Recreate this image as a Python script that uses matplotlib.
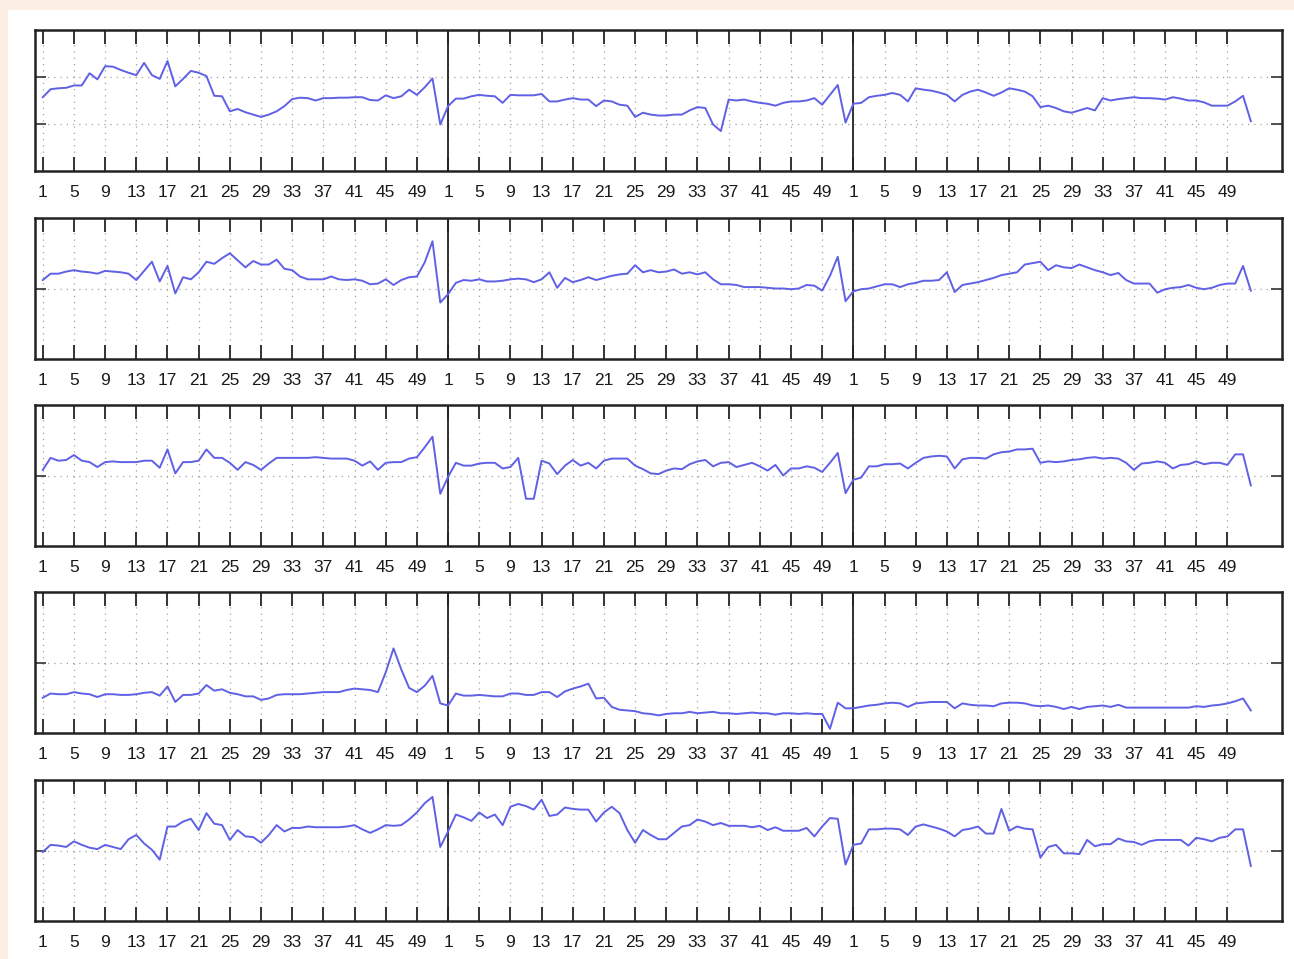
import numpy as np
import matplotlib.pyplot as plt
from matplotlib.patches import Rectangle

plt.rcParams['font.family'] = ['Liberation Sans', 'DejaVu Sans']

# each row of the figure = three consecutive runs of 52 samples
SEG_LEN = 52
seg_x = np.arange(1, SEG_LEN + 1)
tick_vals = list(range(1, 50, 4))
tick_labels = [str(v) for v in tick_vals]

row1_a = [1.57, 1.74, 1.76, 1.77, 1.82, 1.82, 2.08, 1.95, 2.23, 2.22, 2.15, 2.09, 2.04,
          2.30, 2.04, 1.96, 2.34, 1.80, 1.96, 2.13, 2.09, 2.02, 1.60, 1.59, 1.27, 1.32,
          1.25, 1.20, 1.15, 1.20, 1.27, 1.38, 1.53, 1.56, 1.55, 1.50, 1.55, 1.55, 1.56,
          1.56, 1.57, 1.57, 1.51, 1.50, 1.61, 1.55, 1.59, 1.73, 1.62, 1.78, 1.97, 0.99]
row1_b = [1.38, 1.54, 1.54, 1.59, 1.62, 1.60, 1.59, 1.45, 1.62, 1.61, 1.61, 1.61, 1.64,
          1.48, 1.48, 1.52, 1.55, 1.52, 1.52, 1.38, 1.50, 1.48, 1.41, 1.39, 1.15, 1.24,
          1.20, 1.18, 1.18, 1.20, 1.20, 1.29, 1.36, 1.34, 0.99, 0.85, 1.52, 1.50, 1.52,
          1.48, 1.45, 1.43, 1.39, 1.45, 1.48, 1.48, 1.50, 1.55, 1.41, 1.62, 1.83, 1.03]
row1_c = [1.43, 1.45, 1.57, 1.60, 1.62, 1.66, 1.62, 1.48, 1.76, 1.73, 1.71, 1.67, 1.62,
          1.48, 1.62, 1.69, 1.73, 1.67, 1.60, 1.67, 1.76, 1.73, 1.69, 1.59, 1.36, 1.39,
          1.34, 1.27, 1.24, 1.29, 1.34, 1.29, 1.55, 1.50, 1.53, 1.55, 1.57, 1.55, 1.55,
          1.54, 1.52, 1.57, 1.54, 1.50, 1.50, 1.46, 1.39, 1.39, 1.39, 1.48, 1.60, 1.06]

row2_a = [1.12, 1.21, 1.21, 1.24, 1.26, 1.24, 1.23, 1.21, 1.25, 1.24, 1.23, 1.21, 1.12,
          1.25, 1.38, 1.10, 1.32, 0.93, 1.16, 1.13, 1.23, 1.38, 1.35, 1.43, 1.50, 1.40,
          1.30, 1.39, 1.34, 1.34, 1.41, 1.28, 1.26, 1.17, 1.13, 1.13, 1.13, 1.17, 1.13,
          1.12, 1.13, 1.11, 1.06, 1.07, 1.13, 1.05, 1.12, 1.16, 1.17, 1.37, 1.67, 0.80]
row2_b = [0.92, 1.08, 1.12, 1.11, 1.13, 1.10, 1.10, 1.11, 1.13, 1.14, 1.13, 1.09, 1.13,
          1.23, 1.01, 1.15, 1.09, 1.12, 1.16, 1.12, 1.15, 1.18, 1.20, 1.21, 1.33, 1.23,
          1.26, 1.23, 1.24, 1.27, 1.21, 1.23, 1.20, 1.23, 1.13, 1.06, 1.06, 1.05, 1.02,
          1.02, 1.02, 1.01, 1.00, 1.00, 0.99, 1.00, 1.05, 1.04, 0.97, 1.18, 1.45, 0.82]
row2_c = [0.96, 0.99, 1.00, 1.03, 1.06, 1.06, 1.02, 1.06, 1.08, 1.11, 1.11, 1.12, 1.23,
          0.95, 1.05, 1.07, 1.09, 1.12, 1.15, 1.19, 1.21, 1.23, 1.34, 1.36, 1.38, 1.26,
          1.33, 1.30, 1.29, 1.34, 1.30, 1.26, 1.23, 1.19, 1.22, 1.12, 1.07, 1.07, 1.07,
          0.94, 0.99, 1.01, 1.02, 1.05, 1.01, 0.99, 1.01, 1.05, 1.07, 1.07, 1.32, 0.97]

row3_a = [1.08, 1.25, 1.21, 1.22, 1.29, 1.21, 1.19, 1.12, 1.19, 1.20, 1.19, 1.19, 1.19,
          1.21, 1.21, 1.11, 1.37, 1.03, 1.19, 1.19, 1.21, 1.37, 1.25, 1.25, 1.18, 1.08,
          1.19, 1.15, 1.08, 1.17, 1.25, 1.25, 1.25, 1.25, 1.25, 1.26, 1.25, 1.24, 1.24,
          1.24, 1.21, 1.14, 1.20, 1.08, 1.18, 1.19, 1.19, 1.24, 1.26, 1.40, 1.55, 0.74]
row3_b = [0.98, 1.18, 1.14, 1.14, 1.17, 1.18, 1.18, 1.10, 1.12, 1.25, 0.67, 0.67, 1.21,
          1.17, 1.02, 1.14, 1.22, 1.14, 1.18, 1.10, 1.21, 1.24, 1.24, 1.24, 1.14, 1.09,
          1.03, 1.02, 1.07, 1.10, 1.09, 1.16, 1.20, 1.22, 1.13, 1.18, 1.19, 1.12, 1.15,
          1.18, 1.13, 1.07, 1.15, 1.00, 1.10, 1.10, 1.13, 1.11, 1.05, 1.18, 1.32, 0.75]
row3_c = [0.94, 0.97, 1.13, 1.13, 1.16, 1.16, 1.17, 1.10, 1.18, 1.25, 1.27, 1.28, 1.27,
          1.10, 1.23, 1.25, 1.25, 1.24, 1.30, 1.33, 1.34, 1.37, 1.37, 1.38, 1.18, 1.20,
          1.19, 1.20, 1.22, 1.23, 1.25, 1.26, 1.24, 1.25, 1.24, 1.18, 1.08, 1.17, 1.18,
          1.20, 1.18, 1.10, 1.15, 1.16, 1.20, 1.16, 1.18, 1.18, 1.15, 1.30, 1.30, 0.86]

row4_a = [0.50, 0.56, 0.55, 0.55, 0.58, 0.56, 0.55, 0.51, 0.55, 0.55, 0.54, 0.54, 0.55,
          0.57, 0.58, 0.53, 0.66, 0.44, 0.54, 0.54, 0.56, 0.68, 0.60, 0.62, 0.57, 0.55,
          0.52, 0.52, 0.47, 0.49, 0.54, 0.55, 0.55, 0.55, 0.56, 0.57, 0.58, 0.58, 0.58,
          0.61, 0.63, 0.62, 0.61, 0.58, 0.86, 1.20, 0.90, 0.64, 0.58, 0.67, 0.81, 0.42]
row4_b = [0.39, 0.56, 0.53, 0.53, 0.54, 0.53, 0.52, 0.52, 0.56, 0.56, 0.54, 0.54, 0.58,
          0.58, 0.51, 0.59, 0.63, 0.66, 0.70, 0.49, 0.50, 0.37, 0.33, 0.32, 0.31, 0.28,
          0.27, 0.25, 0.27, 0.28, 0.28, 0.30, 0.28, 0.29, 0.30, 0.28, 0.28, 0.27, 0.28,
          0.29, 0.28, 0.28, 0.26, 0.28, 0.28, 0.27, 0.28, 0.27, 0.27, 0.06, 0.43, 0.35]
row4_c = [0.35, 0.37, 0.39, 0.40, 0.42, 0.43, 0.42, 0.37, 0.42, 0.43, 0.44, 0.44, 0.44,
          0.35, 0.42, 0.40, 0.39, 0.39, 0.38, 0.42, 0.43, 0.43, 0.42, 0.39, 0.38, 0.39,
          0.37, 0.34, 0.37, 0.34, 0.37, 0.38, 0.39, 0.37, 0.40, 0.36, 0.36, 0.36, 0.36,
          0.36, 0.36, 0.36, 0.36, 0.36, 0.38, 0.37, 0.39, 0.40, 0.42, 0.45, 0.49, 0.32]

row5_a = [0.98, 1.08, 1.07, 1.05, 1.13, 1.08, 1.04, 1.02, 1.08, 1.05, 1.02, 1.16, 1.22,
          1.10, 1.01, 0.87, 1.34, 1.34, 1.41, 1.45, 1.29, 1.53, 1.38, 1.36, 1.15, 1.29,
          1.20, 1.19, 1.11, 1.22, 1.36, 1.27, 1.32, 1.32, 1.34, 1.33, 1.33, 1.33, 1.33,
          1.34, 1.36, 1.30, 1.25, 1.30, 1.36, 1.35, 1.36, 1.44, 1.54, 1.67, 1.76, 1.05]
row5_b = [1.27, 1.51, 1.47, 1.42, 1.54, 1.46, 1.51, 1.36, 1.62, 1.66, 1.63, 1.58, 1.72,
          1.49, 1.51, 1.61, 1.59, 1.58, 1.58, 1.41, 1.54, 1.62, 1.53, 1.29, 1.11, 1.29,
          1.22, 1.16, 1.16, 1.25, 1.34, 1.36, 1.44, 1.41, 1.36, 1.39, 1.35, 1.35, 1.35,
          1.33, 1.35, 1.29, 1.33, 1.28, 1.28, 1.28, 1.32, 1.20, 1.34, 1.46, 1.45, 0.80]
row5_c = [1.08, 1.10, 1.30, 1.30, 1.31, 1.31, 1.30, 1.22, 1.34, 1.37, 1.34, 1.31, 1.27,
          1.20, 1.29, 1.31, 1.34, 1.24, 1.24, 1.59, 1.28, 1.34, 1.31, 1.30, 0.90, 1.05,
          1.08, 0.96, 0.96, 0.95, 1.15, 1.06, 1.09, 1.09, 1.17, 1.13, 1.12, 1.08, 1.13,
          1.15, 1.15, 1.15, 1.15, 1.07, 1.18, 1.16, 1.13, 1.18, 1.20, 1.30, 1.30, 0.78]

rows = [
    (row1_a, row1_b, row1_c),
    (row2_a, row2_b, row2_c),
    (row3_a, row3_b, row3_c),
    (row4_a, row4_b, row4_c),
    (row5_a, row5_b, row5_c),
]
row_ylims = [(0, 3), (0, 2), (0, 2), (0, 2), (0, 2)]
row_yticks = [[1, 2], [1], [1], [1], [1]]

LINE_COLOR = '#6060e6'
PEACH = '#fdeee3'

W, H = 1294, 959
fig = plt.figure(figsize=(W / 100, H / 100), dpi=100)
fig.patch.set_facecolor('white')

# peach frame on top and left edge of the picture
fig.patches.append(Rectangle((0, 1 - 10 / H), 1, 10 / H, transform=fig.transFigure,
                             facecolor=PEACH, edgecolor='none', zorder=0))
fig.patches.append(Rectangle((0, 0), 8 / W, 1, transform=fig.transFigure,
                             facecolor=PEACH, edgecolor='none', zorder=0))

tops = [30, 218, 405, 592, 780]
ax_h = 141
ax_left, ax_w = 35, 1247

xticks = [v + SEG_LEN * s for s in range(3) for v in tick_vals]
xlabels = tick_labels * 3

for i, segs in enumerate(rows):
    ax = fig.add_axes([ax_left / W, 1 - (tops[i] + ax_h) / H, ax_w / W, ax_h / H])
    xs = np.concatenate([seg_x + SEG_LEN * s for s in range(3)])
    ys = np.concatenate([np.asarray(seg) for seg in segs])
    ax.plot(xs, ys, color=LINE_COLOR, lw=1.4, zorder=3, solid_joinstyle='round')

    for s in (1, 2):
        ax.axvline(SEG_LEN * s + 1, color='#222222', lw=1.3, zorder=2)

    ax.set_xlim(0, 160)
    ax.set_ylim(*row_ylims[i])
    ax.set_xticks(xticks)
    ax.set_xticklabels(xlabels)
    ax.set_yticks(row_yticks[i])
    ax.set_yticklabels([])

    ax.tick_params(axis='x', direction='in', length=10, width=1.4, top=True, bottom=True,
                   labelsize=12.5, pad=10, labelcolor='#1a1a1a', color='#333333')
    ax.tick_params(axis='y', direction='in', length=8, width=1.2, left=True, right=True,
                   color='#333333')
    ax.grid(True, linestyle=(0, (1, 4)), color='#a0a0a0', linewidth=0.9)
    for sp in ax.spines.values():
        sp.set_linewidth(1.8)
        sp.set_color('#222222')

fig.savefig('out.png', dpi=100)
